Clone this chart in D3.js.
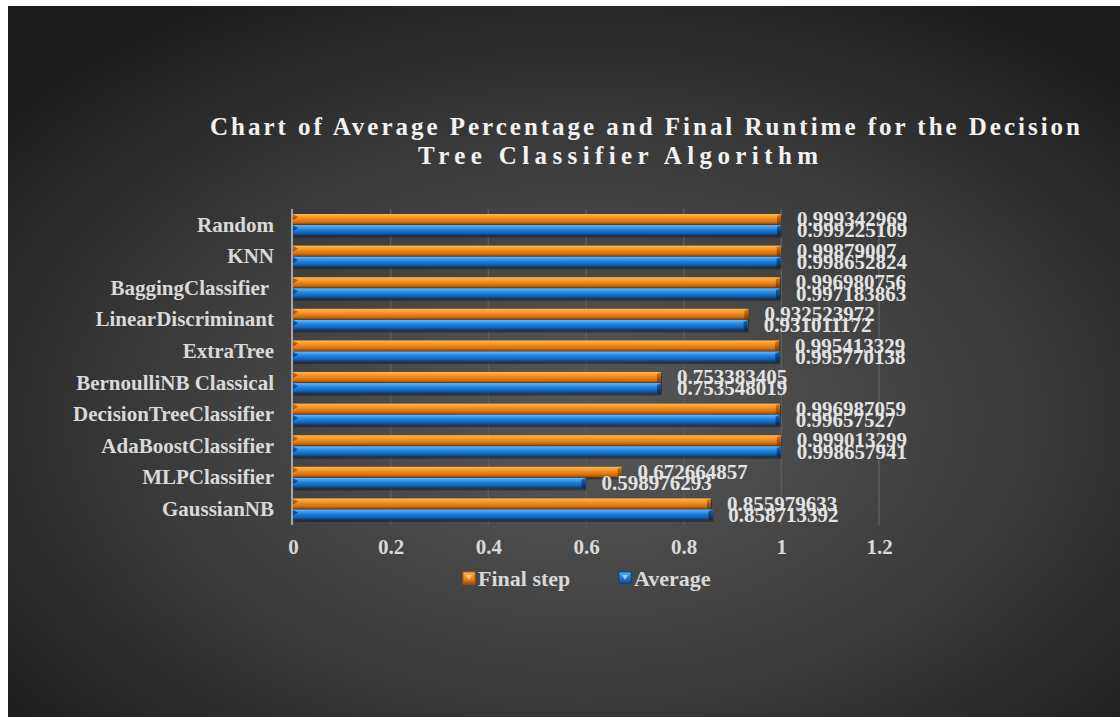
<!DOCTYPE html>
<html>
<head>
<meta charset="utf-8">
<script src="https://cdn.jsdelivr.net/npm/d3@7"></script>
<style>
  html, body { margin: 0; padding: 0; background: #ffffff; }
  svg { display: block; }
  text { font-family: "Liberation Serif", "Times New Roman", serif; font-weight: bold; }
</style>
</head>
<body>
<svg id="chart" width="1120" height="717"></svg>
<script>
// ---- data ----
const categories = ["Random", "KNN", "BaggingClassifier ", "LinearDiscriminant", "ExtraTree",
  "BernoulliNB Classical", "DecisionTreeClassifier", "AdaBoostClassifier", "MLPClassifier", "GaussianNB"];
const seriesNames = ["Final step", "Average"];
const finalStep = [0.999342969, 0.99879007, 0.996980756, 0.932523972, 0.995413329,
  0.753383405, 0.996987059, 0.999013299, 0.672664857, 0.855979633];
const average = [0.999225109, 0.998652824, 0.997183863, 0.931011172, 0.995770138,
  0.753548019, 0.99657527, 0.998657941, 0.598976293, 0.858713392];
const xTicks = [0, 0.2, 0.4, 0.6, 0.8, 1, 1.2];
const titleLines = ["Chart of Average Percentage and Final Runtime for the Decision",
  "Tree Classifier Algorithm"];

// ---- setup ----
const svg = d3.select("#chart");
const W = 1120, H = 717;
const defs = svg.append("defs");

const bg = defs.append("radialGradient").attr("id", "bg")
  .attr("cx", "52%").attr("cy", "58%").attr("r", "68%");
bg.append("stop").attr("offset", "0%").attr("stop-color", "#585858");
bg.append("stop").attr("offset", "55%").attr("stop-color", "#3c3c3c");
bg.append("stop").attr("offset", "100%").attr("stop-color", "#1c1c1c");

function barGrad(id, stops) {
  const g = defs.append("linearGradient").attr("id", id)
    .attr("x1", 0).attr("y1", 0).attr("x2", 0).attr("y2", 1);
  stops.forEach(([o, c]) => g.append("stop").attr("offset", o).attr("stop-color", c));
}
barGrad("gOrange", [["0%", "#ffb54d"], ["22%", "#fba234"], ["45%", "#f08a1c"], ["75%", "#d9700e"], ["100%", "#8e4607"]]);
barGrad("gBlue", [["0%", "#63b8ff"], ["22%", "#3a9cf0"], ["45%", "#1d7fd8"], ["75%", "#1461b5"], ["100%", "#0a3769"]]);
barGrad("gOrangeCap", [["0%", "#e07a14"], ["100%", "#7a3a05"]]);
barGrad("gBlueCap", [["0%", "#1565c0"], ["100%", "#072a55"]]);

svg.append("rect").attr("x", 8).attr("y", 6).attr("width", W - 8).attr("height", H - 6)
  .attr("fill", "url(#bg)");

// ---- scales ----
const x = d3.scaleLinear().domain([0, 1.2]).range([293, 879]);
const y = d3.scaleBand().domain(categories).range([209, 525]).padding(0);
const ySub = d3.scaleBand().domain(seriesNames).range([5, y.bandwidth() - 5]).paddingInner(0.05);

// ---- gridlines ----
svg.append("g").selectAll("line").data(xTicks.filter(t => t > 0)).join("line")
  .attr("x1", d => x(d)).attr("x2", d => x(d))
  .attr("y1", 209).attr("y2", 525)
  .attr("stroke", "#5c5c5c").attr("stroke-width", 1.5);

// ---- bars ----
const series = [
  { name: "Final step", values: finalStep, fill: "url(#gOrange)", cap: "url(#gOrangeCap)" },
  { name: "Average", values: average, fill: "url(#gBlue)", cap: "url(#gBlueCap)" }
];

const barsG = svg.append("g");
series.forEach(s => {
  const g = barsG.append("g");
  categories.forEach((c, i) => {
    const v = s.values[i];
    const y0 = y(c) + ySub(s.name);
    const h = ySub.bandwidth();
    const x0 = x(0), x1 = x(v);
    g.append("rect").attr("x", x0 + 1).attr("y", y0 + 2).attr("width", x1 - x0)
      .attr("height", h).attr("fill", "#151515").attr("opacity", 0.45);
    g.append("rect").attr("x", x0).attr("y", y0).attr("width", x1 - x0)
      .attr("height", h).attr("fill", s.fill);
    g.append("path")
      .attr("d", `M${x1 - 4},${y0 + 2} L${x1},${y0} L${x1},${y0 + h} L${x1 - 4},${y0 + h} Z`)
      .attr("fill", s.cap);
    g.append("path")
      .attr("d", `M${x0},${y0} L${x0 + 5},${y0 + 3} L${x0},${y0 + 6} Z`)
      .attr("fill", s.cap).attr("opacity", 0.9);
  });
});

// ---- value labels ----
series.forEach(s => {
  svg.append("g").selectAll("text").data(categories).join("text")
    .attr("x", (c, i) => x(s.values[i]) + 16)
    .attr("y", c => y(c) + ySub(s.name) + ySub.bandwidth() / 2)
    .attr("dominant-baseline", "central")
    .attr("font-size", 21)
    .attr("fill", "#e3e3e3")
    .text((c, i) => String(s.values[i]));
});

// ---- axis line ----
svg.append("line").attr("x1", 292).attr("x2", 292).attr("y1", 209).attr("y2", 525)
  .attr("stroke", "#a6a6a6").attr("stroke-width", 2);

// ---- category labels ----
const yAxis = d3.axisLeft(y).tickSize(0).tickPadding(0);
const yg = svg.append("g").attr("transform", "translate(274,0)").call(yAxis);
yg.select(".domain").remove();
yg.selectAll("text")
  .attr("font-size", 21).attr("fill", "#d9d9d9")
  .attr("font-family", "Liberation Serif, serif").attr("font-weight", "bold")
  .style("white-space", "pre");

// ---- x tick labels ----
const xAxis = d3.axisBottom(x).tickValues(xTicks).tickSize(0).tickPadding(0).tickFormat(d3.format("~g"));
const xg = svg.append("g").attr("transform", "translate(0,539)").call(xAxis);
xg.select(".domain").remove();
xg.selectAll("text")
  .attr("font-size", 21).attr("fill", "#d9d9d9")
  .attr("font-family", "Liberation Serif, serif").attr("font-weight", "bold");

// ---- title ----
const titleSpec = [
  { text: titleLines[0], x0: 210, x1: 1080, y: 126 },
  { text: titleLines[1], x0: 418, x1: 818, y: 155 }
];
titleSpec.forEach(t => {
  svg.append("text")
    .attr("x", t.x0).attr("y", t.y)
    .attr("dominant-baseline", "central")
    .attr("font-size", 25)
    .attr("fill", "#f2f2f2")
    .attr("textLength", t.x1 - t.x0)
    .attr("lengthAdjust", "spacing")
    .text(t.text);
});

// ---- legend ----
const legend = [
  { name: seriesNames[0], x: 463, fill: "url(#gOrange)", cap: "#b85a0a" },
  { name: seriesNames[1], x: 619, fill: "url(#gBlue)", cap: "#0d4a8a" }
];
legend.forEach(l => {
  const g = svg.append("g").attr("transform", `translate(${l.x},572)`);
  g.append("rect").attr("width", 12).attr("height", 12).attr("fill", l.fill)
    .attr("stroke", l.cap).attr("stroke-width", 1);
  g.append("path").attr("d", "M3,3 L9,3 L6,8 Z").attr("fill", "#ffffff").attr("opacity", 0.55);
  g.append("text").attr("x", 15).attr("y", 6).attr("dominant-baseline", "central")
    .attr("font-size", 22).attr("fill", "#d9d9d9").text(l.name);
});
</script>
</body>
</html>
